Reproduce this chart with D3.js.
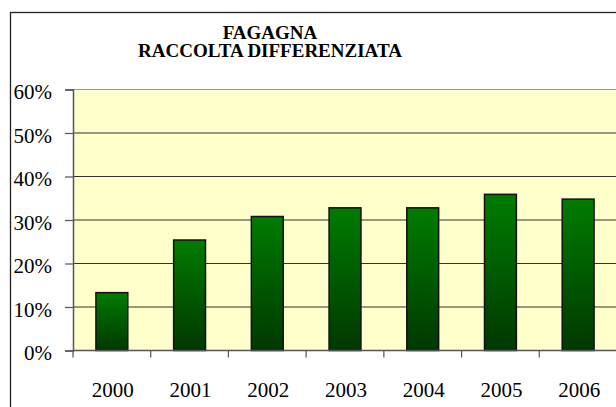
<!DOCTYPE html>
<html>
<head>
<meta charset="utf-8">
<script src="https://cdn.jsdelivr.net/npm/d3@7"></script>
</head>
<body style="margin:0">
<div id="chart"></div>
<script>
const years = ["2000", "2001", "2002", "2003", "2004", "2005", "2006"];
const values = [0.133, 0.254, 0.308, 0.328, 0.328, 0.359, 0.348];
const yTicks = [0, 0.1, 0.2, 0.3, 0.4, 0.5, 0.6];
const titleLines = ["FAGAGNA", "RACCOLTA DIFFERENZIATA"];

const width = 616, height = 407;
const plot = { left: 73, right: 617, top: 89.5, bottom: 350.5 };
const serif = '"Liberation Serif"';

const svg = d3.select("#chart").append("svg")
    .attr("width", width)
    .attr("height", height);

// gradient for the bars
const grad = svg.append("defs").append("linearGradient")
    .attr("id", "barGrad")
    .attr("x1", 0).attr("y1", 0).attr("x2", 0).attr("y2", 1);
grad.append("stop").attr("offset", "0%").attr("stop-color", "#007c00");
grad.append("stop").attr("offset", "100%").attr("stop-color", "#003800");

// outer frame
svg.append("rect")
    .attr("x", 10.5).attr("y", 12.5)
    .attr("width", 700).attr("height", 500)
    .attr("fill", "#fff")
    .attr("stroke", "#222")
    .attr("stroke-width", 1.3);

// title
svg.selectAll("text.title")
    .data(titleLines)
    .enter()
    .append("text")
    .attr("class", "title")
    .attr("x", 270)
    .attr("y", (d, i) => 39 + i * 17.5)
    .attr("text-anchor", "middle")
    .attr("font-size", 19)
    .attr("font-weight", "bold")
    .style("font-family", serif)
    .text(d => d);

const x = d3.scaleBand()
    .domain(years)
    .range([plot.left, plot.right])
    .paddingInner(0.59)
    .paddingOuter(0.295);

const y = d3.scaleLinear()
    .domain([0, 0.6])
    .range([plot.bottom, plot.top]);

// plot background
svg.append("rect")
    .attr("x", plot.left).attr("y", plot.top)
    .attr("width", plot.right - plot.left)
    .attr("height", plot.bottom - plot.top)
    .attr("fill", "#ffffcc");

// gridlines
svg.append("g").selectAll("line")
    .data(yTicks.filter(d => d > 0))
    .enter()
    .append("line")
    .attr("x1", plot.left).attr("x2", plot.right)
    .attr("y1", d => y(d)).attr("y2", d => y(d))
    .attr("stroke", d => d === 0.6 ? "#999" : "#333")
    .attr("stroke-width", 1.2);

// y axis (line and ticks only; labels drawn below)
const yAxis = svg.append("g")
    .attr("transform", `translate(${plot.left},0)`)
    .call(d3.axisLeft(y).tickValues(yTicks).tickFormat("").tickSize(8));
yAxis.select(".domain").attr("stroke", "#555").attr("stroke-width", 1.5);
yAxis.selectAll(".tick line").attr("stroke", "#555").attr("stroke-width", 1.2);

const pct = d3.format(".0%");
svg.selectAll("text.ylab")
    .data(yTicks)
    .enter()
    .append("text")
    .attr("class", "ylab")
    .attr("x", 52)
    .attr("y", d => y(d) + 9.5)
    .attr("text-anchor", "end")
    .attr("font-size", 21)
    .style("font-family", serif)
    .text(d => pct(d));

// bars
svg.append("g").selectAll("rect")
    .data(values)
    .enter()
    .append("rect")
    .attr("x", (d, i) => x(years[i]))
    .attr("y", d => y(d))
    .attr("width", x.bandwidth())
    .attr("height", d => y(0) - y(d))
    .attr("fill", "url(#barGrad)")
    .attr("stroke", "#111")
    .attr("stroke-width", 1.5);

// x axis line and category boundary ticks
svg.append("line")
    .attr("x1", plot.left).attr("x2", plot.right)
    .attr("y1", plot.bottom).attr("y2", plot.bottom)
    .attr("stroke", "#555").attr("stroke-width", 1.5);

svg.append("g").selectAll("line")
    .data(d3.range(years.length))
    .enter()
    .append("line")
    .attr("x1", i => plot.left + i * x.step())
    .attr("x2", i => plot.left + i * x.step())
    .attr("y1", plot.bottom).attr("y2", plot.bottom + 7)
    .attr("stroke", "#555").attr("stroke-width", 1.2);

svg.selectAll("text.xlab")
    .data(years)
    .enter()
    .append("text")
    .attr("class", "xlab")
    .attr("x", d => x(d) + x.bandwidth() / 2 + 1)
    .attr("y", 396.5)
    .attr("text-anchor", "middle")
    .attr("font-size", 21)
    .style("font-family", serif)
    .text(d => d);
</script>
</body>
</html>
